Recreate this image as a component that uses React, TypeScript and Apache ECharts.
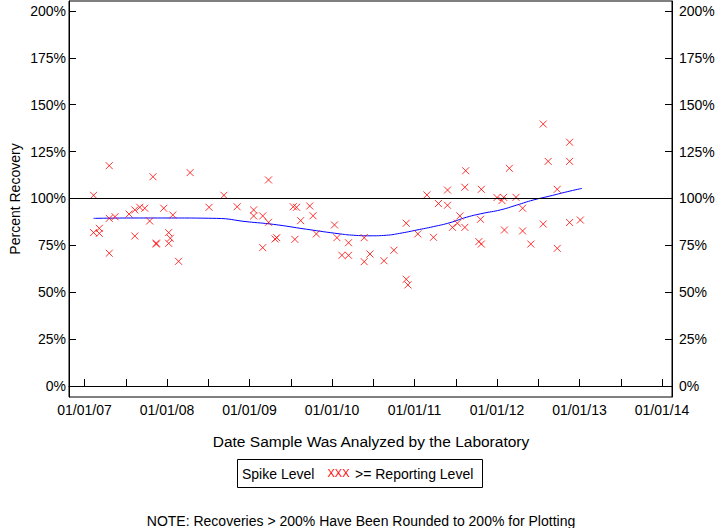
import React, { useEffect, useRef } from "react";
import * as echarts from "echarts";

// Axis ticks
const yearTicks = [2007, 2008, 2009, 2010, 2011, 2012, 2013, 2014];
const halfYearTicks = [2007, 2007.5, 2008, 2008.5, 2009, 2009.5, 2010, 2010.5, 2011, 2011.5, 2012, 2012.5, 2013, 2013.5, 2014];
const percentTicks = [0, 25, 50, 75, 100, 125, 150, 175, 200];

// Samples (decimal year of analysis, percent recovery)
const sampleYears = [
  2007.11, 2007.11, 2007.18, 2007.18, 2007.30, 2007.30, 2007.30, 2007.37, 2007.54, 2007.61,
  2007.61, 2007.67, 2007.73, 2007.79, 2007.83, 2007.87, 2007.87, 2007.96, 2008.02, 2008.04,
  2008.02, 2008.07, 2008.14, 2008.28, 2008.51, 2008.69, 2008.85, 2009.05, 2009.05, 2009.16,
  2009.23, 2009.23, 2009.16, 2009.33, 2009.31, 2009.53, 2009.57, 2009.73, 2009.77, 2009.62,
  2009.55, 2009.81, 2010.03, 2010.06, 2010.20, 2010.12, 2010.20, 2010.39, 2010.46, 2010.39,
  2010.63, 2010.75, 2010.90, 2010.90, 2010.92, 2011.04, 2011.23, 2011.15, 2011.29, 2011.40,
  2011.40, 2011.55, 2011.52, 2011.46, 2011.61, 2011.61, 2011.62, 2011.81, 2011.80, 2011.78,
  2011.81, 2012.00, 2012.08, 2012.06, 2012.23, 2012.15, 2012.31, 2012.09, 2012.31, 2012.41,
  2012.56, 2012.62, 2012.73, 2012.56, 2012.73, 2012.88, 2012.88, 2012.88, 2013.01,
];
const recoveries = [
  101.7, 81.8, 84.1, 81.4, 117.5, 89.4, 70.8, 90.3, 91.7, 93.9,
  80.0, 95.3, 94.8, 88.0, 111.6, 75.7, 76.2, 94.8, 81.8, 78.8,
  76.1, 91.2, 66.5, 113.8, 95.3, 101.7, 95.6, 93.9, 90.7, 90.7,
  109.9, 87.3, 73.8, 79.1, 78.4, 95.6, 95.3, 96.0, 90.8, 88.2,
  78.2, 81.1, 85.9, 79.1, 76.4, 69.7, 69.7, 79.1, 70.4, 66.3,
  66.8, 72.4, 86.8, 56.9, 53.9, 81.1, 79.3, 101.9, 97.3, 104.5,
  96.4, 90.7, 86.8, 84.6, 84.6, 106.0, 114.8, 104.9, 88.9, 77.0,
  75.7, 100.5, 100.6, 98.9, 100.6, 116.1, 94.8, 83.2, 82.7, 75.7,
  139.7, 119.8, 104.9, 86.4, 73.4, 130.0, 119.8, 87.2, 88.5,
];

// Smoothed trend
const trendYears = [2007.11, 2007.6, 2008.0, 2008.6, 2008.97, 2009.29, 2009.69, 2010.10, 2010.26, 2010.46, 2010.66, 2010.82, 2011.03, 2011.23, 2011.43, 2011.63, 2011.83, 2012.04, 2012.24, 2012.44, 2012.64, 2012.85, 2013.03];
const trendPct = [89.4, 89.6, 89.6, 89.4, 87.6, 86.2, 83.6, 81.1, 80.4, 80.1, 80.4, 81.4, 83.2, 85.0, 87.1, 90.0, 92.1, 93.9, 96.5, 99.2, 101.3, 103.6, 105.4];

const referenceLevel = 100;

const FONT = "Liberation Sans, Arial, sans-serif";

export default function App() {
  const ref = useRef<HTMLDivElement>(null);

  useEffect(() => {
    const chart = echarts.init(ref.current!, null, { renderer: "svg" });
    const yAxisCommon = {
      type: "value" as const,
      min: -5.87,
      max: 205.33,
      splitLine: { show: false },
      axisLine: { show: true, lineStyle: { color: "#000", width: 1 } },
      axisTick: { show: true, inside: true, length: 7, customValues: percentTicks, lineStyle: { color: "#000" } },
    };
    chart.setOption({
      animation: false,
      backgroundColor: "#fff",
      grid: {
        left: 69,
        right: 48,
        top: 1,
        bottom: 131,
        show: true,
        borderColor: "#000",
        borderWidth: 1,
        backgroundColor: "transparent",
      },
      xAxis: {
        type: "value",
        min: 2006.812,
        max: 2014.121,
        splitLine: { show: false },
        axisLine: { show: true, lineStyle: { color: "#000", width: 1 } },
        axisTick: { show: true, inside: true, length: 7, customValues: halfYearTicks, lineStyle: { color: "#000" } },
        axisLabel: {
          customValues: yearTicks,
          formatter: (v: number) => "01/01/" + String(Math.round(v) % 100).padStart(2, "0"),
          color: "#000",
          fontSize: 14,
          fontFamily: FONT,
          margin: 6,
        },
      },
      yAxis: [
        {
          ...yAxisCommon,
          position: "left",
          axisLabel: {
            customValues: percentTicks,
            formatter: (v: number) => v + "%",
            color: "#000",
            fontSize: 14,
            fontFamily: FONT,
            margin: 3,
          },
        },
        {
          ...yAxisCommon,
          position: "right",
          axisLabel: {
            customValues: percentTicks,
            formatter: (v: number) => v + "%",
            color: "#000",
            fontSize: 14,
            fontFamily: FONT,
            margin: 7,
          },
        },
      ],
      series: [
        {
          type: "scatter",
          name: ">= Reporting Level",
          data: sampleYears.map((x, i) => [x, recoveries[i]]),
          symbol: "path://M0 0L8 8M8 0L0 8",
          symbolSize: 7,
          itemStyle: { color: "rgba(0,0,0,0)", borderColor: "#ff0000", borderWidth: 1 },
          markLine: {
            silent: true,
            symbol: ["none", "none"],
            label: { show: false },
            lineStyle: { color: "#000", width: 1, type: "solid" },
            data: [{ yAxis: referenceLevel }],
          },
          z: 3,
        },
        {
          type: "line",
          data: trendYears.map((x, i) => [x, trendPct[i]]),
          smooth: true,
          showSymbol: false,
          lineStyle: { color: "#0000ff", width: 1 },
          z: 2,
        },
      ],
      graphic: [
        {
          type: "text",
          x: 15,
          y: 199,
          rotation: Math.PI / 2,
          style: { text: "Percent Recovery", fontSize: 14, fontFamily: FONT, fill: "#000", align: "center", verticalAlign: "middle" },
        },
        {
          type: "text",
          x: 371,
          y: 441,
          style: { text: "Date Sample Was Analyzed by the Laboratory", fontSize: 15.5, fontFamily: FONT, fill: "#000", align: "center", verticalAlign: "middle" },
        },
        {
          type: "rect",
          shape: { x: 237.5, y: 459.5, width: 245, height: 28 },
          style: { fill: "#fff", stroke: "#000", lineWidth: 1 },
        },
        {
          type: "text",
          x: 242,
          y: 474,
          style: { text: "Spike Level", fontSize: 14, fontFamily: FONT, fill: "#000", align: "left", verticalAlign: "middle" },
        },
        {
          type: "text",
          x: 327.5,
          y: 473,
          style: { text: "XXX", fontSize: 11, fontFamily: FONT, fill: "#ff0000", align: "left", verticalAlign: "middle" },
        },
        {
          type: "text",
          x: 355,
          y: 474,
          style: { text: ">= Reporting Level", fontSize: 14, fontFamily: FONT, fill: "#000", align: "left", verticalAlign: "middle" },
        },
        {
          type: "text",
          x: 361,
          y: 521,
          style: { text: "NOTE: Recoveries > 200% Have Been Rounded to 200% for Plotting", fontSize: 14, fontFamily: FONT, fill: "#000", align: "center", verticalAlign: "middle" },
        },
      ],
    });
    return () => chart.dispose();
  }, []);

  return <div ref={ref} style={{ position: "absolute", left: 0, top: 0, width: 720, height: 528 }} />;
}
